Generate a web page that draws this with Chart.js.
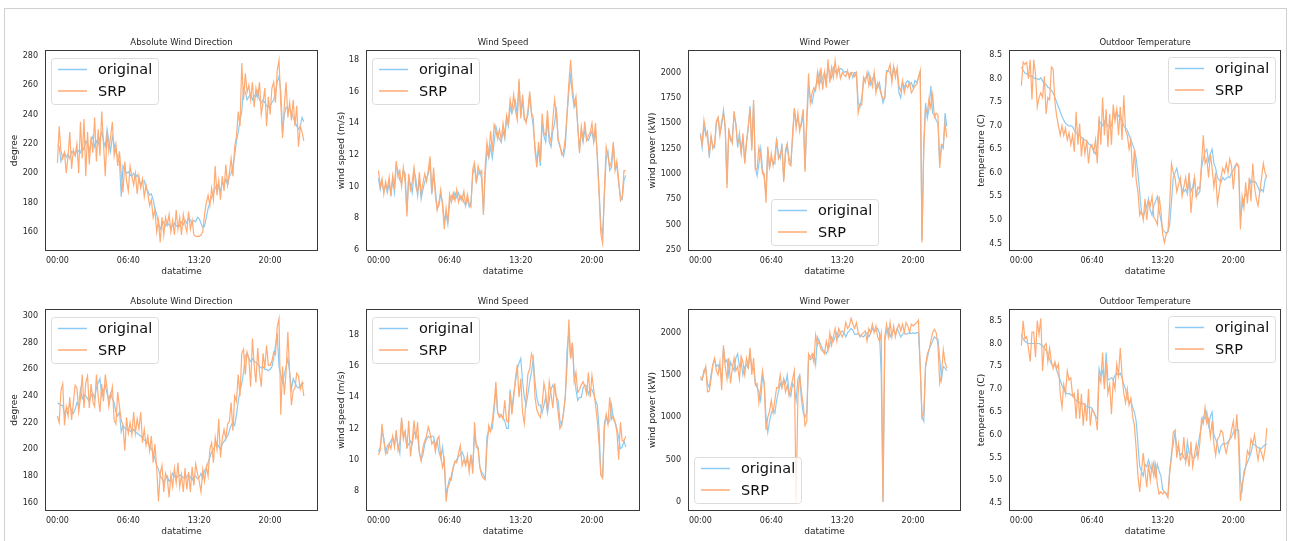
<!DOCTYPE html>
<html>
<head>
<meta charset="utf-8">
<script src="https://cdn.jsdelivr.net/npm/chart.js@4.4.0/dist/chart.umd.min.js"></script>
<style>
  body { margin: 0; background: #fff; width: 1290px; height: 541px; overflow: hidden; position: relative; }
  #frame { position: absolute; left: 4px; top: 8px; width: 1283px; height: 560px; border: 1px solid #d0d0d0; box-sizing: border-box; }
  canvas { position: absolute; }
</style>
</head>
<body>
<div id="frame"></div>
<script>
// x axis: 10-minute samples, labelled every 40 samples
const xTickPos = [0, 40, 80, 120];
const xTickText = ['00:00', '06:40', '13:20', '20:00'];

// ---- top row ----
const dirOrigA = [219,218,208,212,214,211,213,210,215,214,212,216,215,214,218,216,222,220,215,222,225,218,222,220,224,228,222,218,230,222,215,225,220,214,212,208,184,205,202,200,201,199,198,200,197,199,196,192,194,195,190,188,185,186,182,176,172,166,162,165,167,164,166,165,163,164,166,164,165,164,167,165,168,166,170,168,166,168,167,170,169,166,163,164,170,176,180,184,186,190,192,190,188,194,192,196,192,198,200,205,212,222,228,236,242,258,255,250,252,254,250,253,252,256,250,248,250,248,246,245,246,248,250,255,262,266,256,228,240,245,244,243,242,238,235,232,230,232,238,235];
const dirSrpA = [207,232,215,210,214,200,212,228,203,216,212,220,200,235,210,237,198,228,206,225,214,238,208,230,212,242,220,198,228,215,225,235,212,220,205,215,200,187,208,195,188,205,198,192,200,186,198,190,196,184,192,186,178,182,170,175,160,168,153,170,158,170,165,172,160,168,158,175,162,170,158,172,165,160,174,162,168,158,157,157,157,158,160,172,180,185,178,190,182,205,185,195,182,198,188,206,192,200,210,198,218,225,242,232,275,250,268,255,260,250,262,245,258,252,262,240,248,258,232,252,240,258,262,248,270,277,248,224,246,262,238,248,236,250,232,246,218,232,228,222];

const speedOrigA = [10.5,9.8,10.3,9.7,10.1,9.6,10.2,9.5,10.4,9.6,11.3,11.0,10.4,10.2,11.0,10.8,8.4,10.5,10.1,9.6,11.0,10.5,9.4,10.5,9.2,9.8,10.3,10.5,10.8,11.4,9.5,10.8,9.8,8.6,8.8,9.5,9.0,7.8,8.3,7.6,9.0,9.4,9.2,9.6,9.3,9.6,9.2,9.4,9.0,8.8,9.2,8.7,9.0,10.8,11.2,10.3,10.8,11.0,10.5,8.4,10.8,12.3,11.8,12.5,11.8,12.8,13.8,13.3,13.0,12.8,13.5,13.0,14.3,13.8,15.0,14.6,15.0,15.4,14.5,16.6,14.5,15.5,14.2,14.2,14.5,15.8,14.6,13.8,12.5,11.6,12.3,11.3,14.0,13.2,12.8,14.2,12.8,12.5,13.5,14.0,15.0,12.9,12.5,12.2,11.9,12.5,14.5,16.0,17.0,15.8,15.0,15.3,13.8,12.3,13.5,12.8,13.6,13.0,12.9,13.2,13.5,12.8,13.5,12.0,9.8,7.5,6.9,9.5,11.8,12.2,11.0,11.2,12.6,11.1,11.3,10.2,9.4,9.2,10.4,10.7];
const speedSrpA = [11.0,10.0,10.5,9.5,10.3,9.8,10.6,9.4,10.7,10.0,11.6,10.6,11.0,10.0,11.2,10.3,8.1,10.8,9.8,10.3,11.2,10.0,9.6,10.9,9.5,10.2,10.8,10.3,11.0,11.9,9.6,11.2,9.4,8.5,9.0,9.8,8.8,7.3,8.6,7.7,9.5,9.0,9.6,9.1,9.8,9.0,9.4,9.1,9.7,8.8,9.5,8.9,8.7,11.1,11.5,10.2,11.3,10.8,11.0,8.2,11.3,12.8,12.0,13.5,12.2,13.9,13.5,13.0,13.6,12.9,14.0,13.2,14.5,14.0,15.5,14.8,15.8,14.8,14.2,16.8,14.3,15.8,14.4,14.0,14.8,16.0,14.7,14.3,12.2,11.2,12.8,11.6,14.6,13.4,13.2,14.8,13.2,12.8,14.2,15.5,14.6,13.0,12.6,12.0,12.2,13.0,14.6,16.5,18.0,16.3,15.2,15.7,13.9,12.1,13.8,13.0,14.1,12.9,13.2,13.4,14.0,12.9,14.0,11.8,9.5,7.0,6.4,9.8,12.5,11.9,11.2,11.6,12.8,11.0,11.6,10.4,9.1,9.3,11.0,11.0];

const powerOrigA = [1400,1260,1480,1380,1420,1160,1350,1280,1260,1500,1550,1400,1480,1630,1470,900,1450,1330,1360,1580,1500,1260,1400,1220,1360,1120,1320,1450,1670,1260,1690,1060,980,1100,1250,1050,960,790,1250,1060,1150,1120,1100,1330,1200,1150,1300,950,1200,1280,1150,1100,1350,1640,1500,1550,1450,1480,1600,1050,1500,1860,1750,1700,1800,1860,1900,2000,1900,1950,2000,1920,2050,2000,1950,2050,2000,2030,2020,2040,2030,2000,2010,2000,1980,2000,1950,2000,2000,1700,1660,1750,1900,1950,1950,2000,1880,1930,1980,1880,1850,1900,1800,1700,1750,2020,2020,2000,1950,2050,2000,2000,1800,1750,1900,1850,1900,1920,1880,1900,1850,1920,1900,1950,2000,350,1300,1700,1550,1650,1870,1600,1580,1530,1500,1100,1280,1250,1600,1470];
const powerSrpA = [1380,1300,1530,1420,1350,1200,1380,1250,1300,1520,1560,1380,1520,1600,1450,860,1420,1350,1300,1620,1480,1300,1350,1200,1400,1100,1300,1480,1640,1230,1730,1040,1050,1260,1180,1000,1000,715,1270,1050,1200,1080,1180,1350,1150,1200,1250,920,1240,1300,1100,1080,1400,1650,1450,1600,1420,1520,1640,1020,1560,1990,1700,1800,1850,1820,2000,1860,2050,1830,2000,1850,2130,1900,2050,1950,2120,1960,2050,1940,2000,1980,1960,2020,1940,2000,2000,1960,2000,1600,1690,1680,1950,1900,2000,1870,1950,1860,2000,1800,1900,1850,1780,1740,1750,2000,2020,2080,1900,2060,1950,2050,1860,1820,1920,1800,1880,1850,1900,1800,1830,1870,1880,1950,2020,325,1250,1650,1600,1750,1650,1780,1560,1600,1580,1060,1290,1280,1500,1360];

const tempOrigA = [8.25,8.18,8.12,8.1,8.08,8.05,8.06,8.02,8.0,8.0,7.98,8.02,7.95,7.9,7.88,7.82,7.8,7.75,7.7,7.6,7.5,7.4,7.3,7.2,7.12,7.05,7.02,7.0,7.0,6.98,6.9,6.85,6.82,6.8,6.75,6.72,6.7,6.68,6.62,6.6,6.55,6.45,6.4,6.6,7.1,7.05,7.0,7.1,7.05,7.0,6.98,7.0,7.25,7.2,7.3,7.2,7.22,7.1,7.0,6.95,6.9,6.8,6.7,6.6,6.5,6.3,6.0,5.6,5.15,5.05,5.2,5.3,5.45,5.2,5.1,5.3,5.4,5.5,5.2,5.0,4.8,4.75,4.72,4.75,4.9,5.4,5.9,6.0,6.1,5.9,5.8,5.65,5.6,5.65,5.55,5.9,5.6,5.7,5.9,5.5,5.55,5.6,6.1,6.3,6.45,6.5,6.25,6.4,6.5,6.2,6.1,5.9,5.85,5.8,5.9,5.85,5.88,5.92,5.9,6.0,6.05,6.15,6.2,6.12,5.05,5.3,5.45,5.55,5.5,5.7,5.85,5.8,5.82,5.78,5.7,5.6,5.65,5.6,5.85,5.95];
const tempSrpA = [7.85,8.35,8.3,8.35,8.0,8.4,7.56,8.4,8.1,7.4,7.6,7.7,7.6,8.05,7.25,7.6,7.55,8.25,8.2,7.5,7.2,7.0,6.8,7.0,6.8,6.95,6.7,6.85,6.6,6.8,6.45,7.3,6.6,7.05,6.35,6.75,6.4,6.7,6.2,6.55,6.6,6.45,6.7,6.2,7.2,6.6,7.6,6.8,7.35,6.55,7.25,6.6,7.45,7.1,7.35,6.8,7.4,6.7,7.65,6.9,6.8,6.5,6.7,5.9,6.5,5.85,5.6,5.1,5.2,5.0,5.45,5.0,5.4,5.3,5.5,5.05,5.0,4.9,5.5,5.2,4.7,4.52,4.7,4.75,5.35,6.2,6.0,5.9,5.6,5.75,5.9,5.5,5.7,5.9,5.6,6.0,5.15,5.6,5.9,5.5,5.7,5.65,6.2,6.8,6.2,6.3,5.9,6.4,6.1,5.7,6.0,5.35,5.6,5.9,6.1,6.0,6.2,6.0,6.3,6.15,5.65,6.1,6.2,6.15,4.8,5.5,5.25,5.8,5.35,5.9,5.4,6.2,5.7,5.45,5.3,5.6,5.9,6.2,6.0,5.9];

// ---- bottom row ----
const dirOrigB = [235,234,233,233,226,230,231,233,229,227,230,235,233,245,238,241,240,238,236,240,242,238,246,250,253,240,244,248,242,237,242,238,235,228,225,228,213,218,216,215,214,214,213,215,213,212,211,210,208,207,206,205,203,200,198,193,188,185,180,178,175,178,180,176,178,182,180,178,180,181,180,179,178,180,181,179,177,180,180,178,179,182,178,184,186,190,194,198,200,203,205,202,200,204,206,208,210,214,218,220,218,226,236,244,249,258,270,272,268,266,268,266,265,264,262,261,262,260,260,259,260,262,268,278,287,262,256,250,256,262,268,258,245,253,250,247,246,248,249,250];
const dirSrpB = [225,220,244,249,218,232,225,239,222,235,248,246,228,238,256,231,250,255,231,249,236,232,256,240,228,249,236,256,246,232,240,247,222,219,243,232,222,218,199,224,212,220,211,228,212,223,215,228,205,215,203,210,199,210,190,204,186,161,182,188,168,182,178,164,181,172,186,175,190,172,181,168,186,170,183,168,187,173,189,182,176,168,185,176,187,180,200,205,190,209,200,223,194,208,215,208,219,221,235,214,240,236,256,240,272,275,256,273,268,247,283,263,250,276,258,247,272,261,278,263,263,266,273,271,292,298,226,262,241,258,288,258,233,244,246,257,255,245,250,240];

const speedOrigB = [10.5,10.8,11.7,11.4,10.4,10.9,11.0,11.2,11.4,11.0,11.6,10.9,10.4,12.5,11.5,11.8,10.8,11.0,11.2,11.0,11.8,11.6,11.5,10.5,10.0,10.3,11.0,11.3,11.5,11.4,11.5,11.5,10.9,11.2,10.5,10.1,10.8,9.7,7.8,8.3,8.8,8.7,9.5,9.8,10.0,10.2,10.3,10.5,10.2,9.8,10.0,9.5,10.2,9.6,11.5,11.0,10.8,9.5,9.2,9.0,8.8,11.5,11.8,11.9,12.0,13.2,14.5,13.0,12.9,12.8,12.7,12.5,12.0,12.0,14.5,13.2,14.2,15.0,15.8,16.2,16.5,15.0,14.0,13.5,14.2,15.0,15.6,16.5,15.0,14.0,13.5,13.5,13.0,13.5,14.0,13.0,13.8,14.5,14.8,14.5,14.0,13.8,12.5,12.2,13.0,14.0,17.0,18.2,16.5,17.5,15.5,14.5,13.8,14.0,14.0,14.6,14.8,14.7,14.2,14.5,14.5,14.2,13.8,13.5,12.0,9.0,8.9,12.4,12.8,12.3,12.5,13.5,12.6,12.4,12.0,11.4,10.7,10.8,11.2,10.8];
const speedSrpB = [10.3,10.6,12.3,11.2,10.5,10.4,11.0,10.7,11.5,10.8,11.9,10.6,11.1,12.7,11.3,11.8,10.7,12.5,10.2,11.2,12.5,11.3,12.4,10.4,9.9,10.8,11.2,11.5,12.1,11.7,11.0,11.2,10.5,11.3,11.5,10.2,9.5,10.0,7.3,8.2,8.5,9.0,9.5,9.9,9.8,10.4,10.9,9.6,10.0,9.6,10.3,9.2,10.3,9.1,12.4,10.8,10.7,9.5,9.0,8.8,8.7,10.9,12.2,11.8,12.5,13.5,15.0,13.0,12.7,12.9,12.6,13.8,12.5,12.4,14.3,12.9,14.0,15.2,16.1,14.0,15.2,13.0,12.3,14.0,15.5,15.8,16.8,16.4,14.0,13.2,12.9,12.7,13.5,14.9,14.3,13.1,15.0,14.2,13.3,14.9,14.0,13.0,12.0,12.3,13.0,14.0,16.0,19.0,16.5,17.5,15.0,15.6,14.3,14.5,14.8,15.0,14.7,14.2,15.6,14.0,15.4,14.5,13.5,12.5,11.0,9.0,8.8,12.0,12.9,12.3,14.0,12.6,12.8,12.4,11.8,10.0,12.4,11.2,11.2,11.5];

const powerOrigB = [1450,1440,1560,1580,1400,1350,1500,1620,1680,1600,1620,1560,1450,1820,1650,1680,1500,1650,1600,1550,1700,1750,1600,1650,1500,1600,1620,1580,1750,1600,1580,1400,1350,1300,1200,1480,1400,1000,820,950,1050,1100,1050,1200,1300,1400,1350,1450,1400,1500,1300,1250,1400,1350,1200,1450,1500,1200,1050,1000,1050,1700,1680,1700,1750,1620,1950,1900,1850,1800,1780,1750,1800,1850,1950,1900,1950,2000,1950,2000,2020,2000,1950,2000,2020,2050,2030,1980,1980,1990,1970,1960,1950,1980,2000,1950,1990,2050,2030,2020,2050,2000,1500,0,1900,2020,2050,1950,2000,2030,1980,2050,2000,1950,1980,2000,1980,1990,2000,1990,2000,1990,2000,2000,1600,1000,950,1600,1700,1800,1850,1900,1950,1930,1920,1700,1450,1600,1580,1550];
const powerSrpB = [1480,1450,1520,1600,1300,1310,1450,1620,1700,1550,1500,1650,1320,1850,1600,1450,1700,1400,1580,1700,1550,1600,1450,1720,1650,1500,1700,1600,1820,1500,1700,1380,1400,1170,1350,1550,1400,850,1000,1070,1200,1050,1200,1350,1350,1500,1350,1450,1300,1380,1250,1350,1450,1550,0,1250,1500,1300,1150,900,950,1750,1700,1750,1650,1970,1850,1900,1800,1780,1750,1900,1800,2000,1850,1950,2050,1900,2050,2000,1950,2000,2120,2050,2080,2170,2100,2050,2120,2000,1950,1980,2000,2020,1900,2050,2000,2100,2000,2080,1950,1900,2000,0,1950,2100,1950,2120,1950,2080,1950,2050,2100,2020,2100,2000,2120,2080,2000,2100,2080,2100,2120,2150,1600,1000,1050,1600,1750,1800,1900,2000,2040,2000,1850,1400,1500,1800,1650,1580];

const tempOrigB = [8.2,8.1,8.05,8.02,8.0,8.0,8.0,8.0,8.0,8.0,8.0,7.98,7.95,7.9,7.85,7.78,7.65,7.55,7.5,7.55,7.42,7.3,7.2,7.08,7.0,6.92,6.9,6.9,6.88,6.85,6.8,6.75,6.72,6.7,6.7,6.68,6.65,6.62,6.6,6.6,6.58,6.5,6.4,6.35,7.45,7.3,7.4,7.1,7.8,7.2,7.22,7.25,7.2,7.3,7.35,7.3,7.35,7.25,7.1,7.0,6.8,6.7,6.75,6.6,6.5,6.3,5.8,5.3,5.2,5.1,5.35,5.3,5.45,5.3,5.2,5.4,5.1,5.35,5.2,5.1,4.8,4.75,4.72,4.7,5.2,5.6,5.8,6.05,5.75,5.7,5.55,5.6,5.5,5.45,5.85,5.6,5.6,5.5,5.5,5.55,5.75,6.0,6.2,6.4,6.35,6.5,6.2,6.4,6.5,6.0,5.9,5.8,5.6,5.75,5.8,5.8,5.8,5.85,5.9,5.95,6.05,6.1,6.1,6.1,5.0,4.8,5.2,5.3,5.4,5.5,5.6,5.8,5.78,5.75,5.72,5.7,5.7,5.75,5.78,5.8];
const tempSrpB = [7.95,8.5,8.1,8.15,7.9,7.6,8.25,8.25,7.7,8.5,8.2,8.55,7.4,7.95,8.0,7.6,7.9,7.6,7.45,7.6,7.45,7.55,6.9,6.6,7.1,6.9,7.4,7.2,7.25,6.85,6.9,6.35,7.0,6.35,6.9,6.2,6.7,6.3,7.0,6.2,6.55,6.5,6.4,6.1,7.3,7.15,7.8,7.0,7.6,6.9,7.1,6.45,7.2,7.0,7.55,7.3,7.9,7.3,6.9,6.7,7.0,6.65,6.8,6.4,6.2,5.7,5.1,4.75,5.2,5.6,5.2,4.85,5.35,5.0,5.35,5.1,5.35,4.9,4.7,4.75,4.7,4.75,4.7,4.62,5.2,5.5,6.05,6.1,5.5,5.8,5.45,5.5,5.95,5.4,5.6,5.3,5.85,5.3,5.55,5.8,5.5,5.8,6.35,6.25,6.6,6.25,6.35,5.95,6.3,5.8,5.55,5.9,5.95,6.1,6.05,5.75,5.6,5.8,5.9,6.1,6.3,5.9,6.45,5.8,4.55,4.9,5.1,5.3,5.65,5.55,5.9,5.8,6.0,5.7,5.45,5.7,5.6,5.45,5.7,6.15];

// y tick labels
const dirTicksA = [160, 180, 200, 220, 240, 260, 280];
const speedTicksA = [6, 8, 10, 12, 14, 16, 18];
const powerTicksA = [250, 500, 750, 1000, 1250, 1500, 1750, 2000];
const tempTicksA = [4.5, 5.0, 5.5, 6.0, 6.5, 7.0, 7.5, 8.0, 8.5];
const dirTicksB = [160, 180, 200, 220, 240, 260, 280, 300];
const speedTicksB = [8, 10, 12, 14, 16, 18];
const powerTicksB = [0, 500, 1000, 1500, 2000];
const tempTicksB = [4.5, 5.0, 5.5, 6.0, 6.5, 7.0, 7.5, 8.0, 8.5];

const FONT = '"DejaVu Sans", sans-serif';
const TEXT = '#262626';
const ORIG_COLOR = '#8ccbf3';
const SRP_COLOR = '#ffab74';

const colLeft = [45, 366, 688, 1009];
const colWidth = [273, 274, 273, 272];
const rowTop = [50, 309];
const rowHeight = [201, 202];
const ylabelGap = [30, 24, 35, 27];

const panels = [
  { row: 0, col: 0, title: 'Absolute Wind Direction', ylabel: 'degree', orig: dirOrigA, srp: dirSrpA, ticks: dirTicksA, min: 147.1, max: 283.9, dec: 0, legend: 'ul' },
  { row: 0, col: 1, title: 'Wind Speed', ylabel: 'wind speed (m/s)', orig: speedOrigA, srp: speedSrpA, ticks: speedTicksA, min: 5.92, max: 18.62, dec: 0, legend: 'ul' },
  { row: 0, col: 2, title: 'Wind Power', ylabel: 'wind power (kW)', orig: powerOrigA, srp: powerSrpA, ticks: powerTicksA, min: 240, max: 2222, dec: 0, legend: 'lc' },
  { row: 0, col: 3, title: 'Outdoor Temperature', ylabel: 'temperature (C)', orig: tempOrigA, srp: tempSrpA, ticks: tempTicksA, min: 4.34, max: 8.61, dec: 1, legend: 'ur' },
  { row: 1, col: 0, title: 'Absolute Wind Direction', ylabel: 'degree', orig: dirOrigB, srp: dirSrpB, ticks: dirTicksB, min: 153.8, max: 305.2, dec: 0, legend: 'ul' },
  { row: 1, col: 1, title: 'Wind Speed', ylabel: 'wind speed (m/s)', orig: speedOrigB, srp: speedSrpB, ticks: speedTicksB, min: 6.70, max: 19.67, dec: 0, legend: 'ul' },
  { row: 1, col: 2, title: 'Wind Power', ylabel: 'wind power (kW)', orig: powerOrigB, srp: powerSrpB, ticks: powerTicksB, min: -110, max: 2280, dec: 0, legend: 'll' },
  { row: 1, col: 3, title: 'Outdoor Temperature', ylabel: 'temperature (C)', orig: tempOrigB, srp: tempSrpB, ticks: tempTicksB, min: 4.33, max: 8.756, dec: 1, legend: 'ur' }
];

const PAD_L = 45, PAD_T = 25, PAD_R = 6, PAD_B = 32;

function drawLegend(ctx, a, where) {
  const bw = 107, bh = 46;
  let bx, by;
  if (where === 'ul') { bx = a.left + 6; by = a.top + 8; }
  else if (where === 'ur') { bx = a.right - 6 - bw; by = a.top + 7; }
  else if (where === 'lc') { bx = (a.left + a.right) / 2 - bw / 2; by = a.bottom - 6 - bh; }
  else { bx = a.left + 6; by = a.bottom - 8 - bh; }
  ctx.save();
  ctx.beginPath();
  ctx.roundRect(Math.round(bx) + 0.5, Math.round(by) + 0.5, bw, bh, 3);
  ctx.fillStyle = 'rgba(255,255,255,0.8)';
  ctx.fill();
  ctx.strokeStyle = '#dcdcdc';
  ctx.lineWidth = 1;
  ctx.stroke();
  [['original', ORIG_COLOR], ['SRP', SRP_COLOR]].forEach(([label, color], k) => {
    const y = by + 11.5 + k * 21.5;
    ctx.beginPath();
    ctx.moveTo(bx + 7, y);
    ctx.lineTo(bx + 36, y);
    ctx.strokeStyle = color;
    ctx.lineWidth = 1.5;
    ctx.stroke();
    ctx.fillStyle = '#111';
    ctx.font = '14.5px ' + FONT;
    ctx.textBaseline = 'middle';
    ctx.textAlign = 'left';
    ctx.fillText(label, bx + 47, y + 1);
  });
  ctx.restore();
}

// spines, titles, axis labels and the in-plot legend
function decor(p) {
  return {
    id: 'decor',
    afterDraw(chart) {
      const ctx = chart.ctx;
      const a = chart.chartArea;
      ctx.save();
      ctx.strokeStyle = '#3a3a3a';
      ctx.lineWidth = 1;
      ctx.strokeRect(a.left + 0.5, a.top + 0.5, a.right - a.left - 1, a.bottom - a.top - 1);
      ctx.fillStyle = TEXT;
      ctx.textAlign = 'center';
      ctx.textBaseline = 'middle';
      ctx.font = '8.5px ' + FONT;
      ctx.fillText(p.title, (a.left + a.right) / 2, a.top - 7);
      ctx.font = '9px ' + FONT;
      ctx.fillText('datatime', (a.left + a.right) / 2, a.bottom + 20.5);
      ctx.translate(a.left - ylabelGap[p.col], (a.top + a.bottom) / 2);
      ctx.rotate(-Math.PI / 2);
      ctx.fillText(p.ylabel, 0, 0);
      ctx.restore();
      drawLegend(ctx, a, p.legend);
    }
  };
}

panels.forEach(p => {
  const w = colWidth[p.col], h = rowHeight[p.row];
  const cv = document.createElement('canvas');
  cv.width = w + PAD_L + PAD_R;
  cv.height = h + PAD_T + PAD_B;
  cv.style.left = (colLeft[p.col] - PAD_L) + 'px';
  cv.style.top = (rowTop[p.row] - PAD_T) + 'px';
  document.body.appendChild(cv);

  new Chart(cv, {
    type: 'line',
    data: {
      datasets: [
        { label: 'SRP', data: p.srp.map((v, i) => ({ x: i, y: v })), borderColor: SRP_COLOR, borderWidth: 1.2, pointRadius: 0, fill: false },
        { label: 'original', data: p.orig.map((v, i) => ({ x: i, y: v })), borderColor: ORIG_COLOR, borderWidth: 1.2, pointRadius: 0, fill: false }
      ]
    },
    options: {
      responsive: false,
      animation: false,
      devicePixelRatio: 1,
      layout: { padding: { left: 0, top: PAD_T, right: PAD_R, bottom: 0 } },
      plugins: { legend: { display: false }, tooltip: { enabled: false }, title: { display: false } },
      scales: {
        x: {
          type: 'linear', min: -7, max: 147,
          grid: { display: false, drawTicks: false },
          border: { display: false },
          afterFit: s => { s.height = PAD_B; },
          afterBuildTicks: s => { s.ticks = xTickPos.map(v => ({ value: v })); },
          ticks: {
            padding: 5, autoSkip: false, maxRotation: 0, color: TEXT,
            font: { size: 8, family: FONT },
            callback: v => xTickText[xTickPos.indexOf(v)]
          }
        },
        y: {
          type: 'linear', min: p.min, max: p.max,
          grid: { display: false, drawTicks: false },
          border: { display: false },
          afterFit: s => { s.width = PAD_L; },
          afterBuildTicks: s => { s.ticks = p.ticks.map(v => ({ value: v })); },
          ticks: {
            padding: 7, autoSkip: false, color: TEXT,
            font: { size: 8, family: FONT },
            callback: v => Number(v).toFixed(p.dec)
          }
        }
      }
    },
    plugins: [decor(p)]
  });
});
</script>
</body>
</html>
